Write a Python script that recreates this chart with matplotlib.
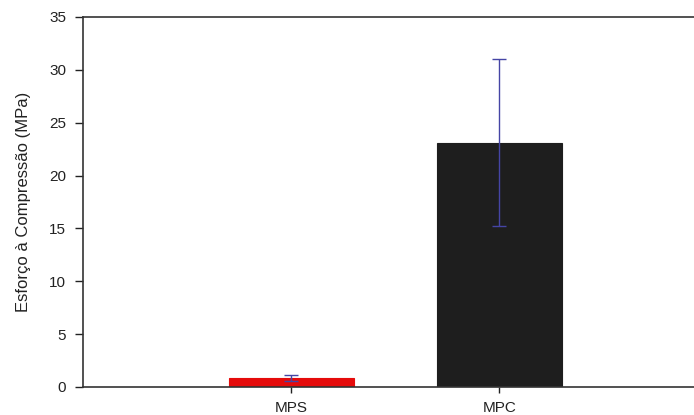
import matplotlib
matplotlib.use("Agg")
import matplotlib.pyplot as plt

plt.rcParams["font.family"] = ["Liberation Sans", "DejaVu Sans"]

categories = ["MPS", "MPC"]
values = [0.85, 23.1]
errors = [0.3, 7.9]
colors = ["#e50b0b", "#1e1e1e"]
positions = [1, 2]

fig = plt.figure(figsize=(6.94, 4.15), dpi=100)
ax = fig.add_axes([0.1196, 0.0675, 0.9, 0.8916])

ax.bar(positions, values, width=0.6, color=colors, edgecolor=colors, linewidth=0.8, zorder=2)
ax.errorbar(positions, values, yerr=errors, fmt="none", ecolor="#4545a5",
            elinewidth=1.0, capsize=5, capthick=1.0, zorder=3)

ax.set_xlim(0, 3)
ax.set_ylim(0, 35)
ax.set_xticks(positions)
ax.set_xticklabels(categories)
ax.set_yticks(range(0, 36, 5))
ax.tick_params(direction="out", width=1, labelsize=11, colors="#222222")
ax.tick_params(axis="y", length=6, pad=6)
ax.tick_params(axis="x", length=4, pad=6)
ax.set_ylabel("Esforço à Compressão (MPa)", fontsize=12, color="#222222", labelpad=13)

for s in ax.spines.values():
    s.set_linewidth(1.2)
    s.set_color("#333333")

fig.savefig("out.png", dpi=100)
